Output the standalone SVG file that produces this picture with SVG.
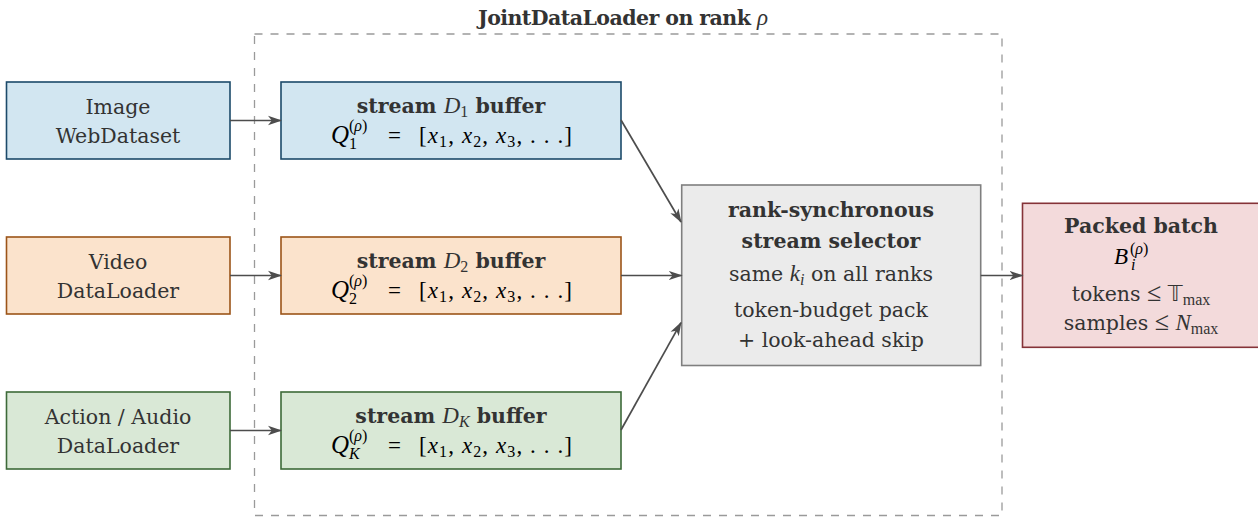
<svg xmlns="http://www.w3.org/2000/svg" width="1258" height="517" viewBox="0 0 1258 517">
<style>
.t{font-family:"DejaVu Serif",serif;font-size:20.5px;fill:#333;text-anchor:middle}
.b{font-weight:bold}
.m{font-family:"Liberation Serif",serif;font-style:italic;font-size:23px;font-weight:normal}
.r{font-family:"Liberation Serif",serif;font-style:normal;font-size:23px;font-weight:normal}
.le{font-family:"Liberation Serif",serif;font-style:normal;font-size:26px;font-weight:normal}
.s{font-family:"Liberation Serif",serif;font-size:16px;font-weight:normal;font-style:normal}
.si{font-family:"Liberation Serif",serif;font-size:16px;font-style:italic;font-weight:normal}
.blue{fill:#d2e6f1;stroke:#1c4a6a;stroke-width:1.6}
.orange{fill:#fbe3cc;stroke:#9c5418;stroke-width:1.6}
.green{fill:#d9e8d6;stroke:#3d6a39;stroke-width:1.6}
.gray{fill:#ebebeb;stroke:#7f7f7f;stroke-width:1.6}
.pink{fill:#f3dadb;stroke:#853338;stroke-width:1.6}
.c{stroke:#4d4d4d;stroke-width:1.7;fill:none;marker-end:url(#ah)}
</style>
<defs>
<marker id="ah" viewBox="0 0 14 11" refX="13" refY="5.5" markerWidth="14" markerHeight="11" markerUnits="userSpaceOnUse" orient="auto">
<path d="M0,0.8 L14,5.5 L0,10.2 L3.8,5.5 z" fill="#4d4d4d"/>
</marker>
</defs>
<rect width="1258" height="517" fill="#fff"/>

<g id="joint-container">
<rect x="254.5" y="34" width="747.5" height="481.5" fill="none" stroke="#9a9a9a" stroke-width="1.3" stroke-dasharray="8 8"/>
<text class="t b" x="623" y="25" textLength="290">JointDataLoader on rank <tspan class="m">ρ</tspan></text>
</g>

<g id="image-webdataset">
<rect class="blue" x="6.5" y="82" width="223.5" height="77"/>
<text class="t" x="118" y="114">Image</text>
<text class="t" x="118" y="143">WebDataset</text>
</g>
<g id="video-dataloader">
<rect class="orange" x="6.5" y="237" width="223.5" height="77"/>
<text class="t" x="118" y="269">Video</text>
<text class="t" x="118" y="298">DataLoader</text>
</g>
<g id="action-audio-dataloader">
<rect class="green" x="6.5" y="392" width="223.5" height="77"/>
<text class="t" x="118" y="424">Action / Audio</text>
<text class="t" x="118" y="453">DataLoader</text>
</g>

<g id="stream-d1-buffer">
<rect class="blue" x="281" y="82" width="340" height="77"/>
<text class="t" x="451" y="113"><tspan class="b">stream </tspan><tspan class="m">D</tspan><tspan class="s" dy="4">1</tspan><tspan class="b" dy="-4"> buffer</tspan></text>
<text class="m" x="331" y="143" style="font-size:25px">Q</text>
<text class="s" x="349" y="131">(<tspan class="si">ρ</tspan>)</text>
<text class="s" x="349" y="149">1</text>
<text class="r" x="388" y="143">=</text>
<text class="r" x="419" y="143" textLength="153">[<tspan class="m">x</tspan><tspan class="s" dy="4">1</tspan><tspan dy="-4">, </tspan><tspan class="m">x</tspan><tspan class="s" dy="4">2</tspan><tspan dy="-4">, </tspan><tspan class="m">x</tspan><tspan class="s" dy="4">3</tspan><tspan dy="-4">, . . .]</tspan></text>
</g>
<g id="stream-d2-buffer">
<rect class="orange" x="281" y="237" width="340" height="77"/>
<text class="t" x="451" y="268"><tspan class="b">stream </tspan><tspan class="m">D</tspan><tspan class="s" dy="4">2</tspan><tspan class="b" dy="-4"> buffer</tspan></text>
<text class="m" x="331" y="298" style="font-size:25px">Q</text>
<text class="s" x="349" y="286">(<tspan class="si">ρ</tspan>)</text>
<text class="s" x="349" y="304">2</text>
<text class="r" x="388" y="298">=</text>
<text class="r" x="419" y="298" textLength="153">[<tspan class="m">x</tspan><tspan class="s" dy="4">1</tspan><tspan dy="-4">, </tspan><tspan class="m">x</tspan><tspan class="s" dy="4">2</tspan><tspan dy="-4">, </tspan><tspan class="m">x</tspan><tspan class="s" dy="4">3</tspan><tspan dy="-4">, . . .]</tspan></text>
</g>
<g id="stream-dk-buffer">
<rect class="green" x="281" y="392" width="340" height="77"/>
<text class="t" x="451" y="423"><tspan class="b">stream </tspan><tspan class="m">D</tspan><tspan class="si" dy="4">K</tspan><tspan class="b" dy="-4"> buffer</tspan></text>
<text class="m" x="331" y="453" style="font-size:25px">Q</text>
<text class="s" x="349" y="441">(<tspan class="si">ρ</tspan>)</text>
<text class="si" x="349" y="459">K</text>
<text class="r" x="388" y="453">=</text>
<text class="r" x="419" y="453" textLength="153">[<tspan class="m">x</tspan><tspan class="s" dy="4">1</tspan><tspan dy="-4">, </tspan><tspan class="m">x</tspan><tspan class="s" dy="4">2</tspan><tspan dy="-4">, </tspan><tspan class="m">x</tspan><tspan class="s" dy="4">3</tspan><tspan dy="-4">, . . .]</tspan></text>
</g>

<g id="stream-selector">
<rect class="gray" x="681.7" y="185" width="299" height="180.5"/>
<text class="t b" x="831" y="217">rank-synchronous</text>
<text class="t b" x="831" y="247.5">stream selector</text>
<text class="t" x="831" y="280.5">same <tspan class="m">k</tspan><tspan class="si" dy="4">i</tspan><tspan dy="-4"> on all ranks</tspan></text>
<text class="t" x="831" y="317">token-budget pack</text>
<text class="t" x="831" y="346.5">+ look-ahead skip</text>
</g>

<g id="packed-batch">
<rect class="pink" x="1022.5" y="203.3" width="240" height="144"/>
<text class="t b" x="1141" y="233">Packed batch</text>
<text class="m" x="1114" y="264">B</text>
<text class="s" x="1130" y="254">(<tspan class="si">ρ</tspan>)</text>
<text class="si" x="1131" y="270">i</text>
<text class="t" x="1141" y="301"><tspan>tokens </tspan><tspan class="le">≤ </tspan><tspan style="font-family:'DejaVu Sans',sans-serif;font-size:21px">𝕋</tspan><tspan class="s" dy="4">max</tspan></text>
<text class="t" x="1141" y="330"><tspan>samples </tspan><tspan class="le">≤ </tspan><tspan class="m">N</tspan><tspan class="s" dy="4">max</tspan></text>
</g>

<g id="connectors">
<line class="c" x1="230" y1="120.5" x2="281" y2="120.5"/>
<line class="c" x1="230" y1="275.5" x2="281" y2="275.5"/>
<line class="c" x1="230" y1="430.5" x2="281" y2="430.5"/>
<line class="c" x1="621" y1="120" x2="681" y2="222"/>
<line class="c" x1="621" y1="275.5" x2="681.7" y2="275.5"/>
<line class="c" x1="621" y1="430" x2="681" y2="322.7"/>
<line class="c" x1="980.7" y1="275.5" x2="1022.5" y2="275.5"/>
</g>
</svg>
